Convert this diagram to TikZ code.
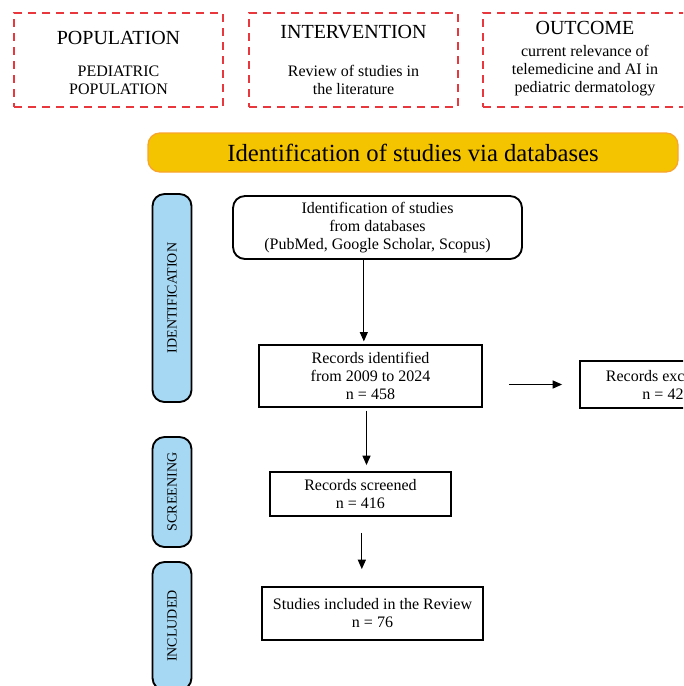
\documentclass[tikz,border=0pt]{standalone}
\usepackage{fontspec}
\setmainfont{Liberation Serif}
\usetikzlibrary{positioning,arrows.meta}
\definecolor{picored}{HTML}{E8383D}
\definecolor{bannerfill}{HTML}{F5C400}
\definecolor{bannerline}{HTML}{F9A52C}
\definecolor{phaseblue}{HTML}{A6D8F4}

\begin{document}
\begin{tikzpicture}[x=0.75pt, y=-0.75pt,
    picobox/.style={draw=picored, line width=1.5pt, dash pattern=on 6pt off 4.5pt, minimum width=156.75pt, minimum height=70.5pt},
    head/.style={font=\fontsize{15}{17}\selectfont},
    body/.style={font=\fontsize{12}{13.5}\selectfont, align=center},
    banner/.style={draw=bannerline, line width=1pt, fill=bannerfill, rounded corners=9pt, minimum width=397.5pt, minimum height=29.25pt, font=\fontsize{18.5}{20}\selectfont},
    phase/.style={draw, line width=1.4pt, fill=phaseblue, rounded corners=9pt, rotate=90, minimum height=29.25pt, font=\fontsize{10.5}{12}\selectfont},
    stepbox/.style={draw, line width=1.4pt, align=center, inner sep=2pt, font=\fontsize{12}{13.5}\selectfont},
    arr/.style={-{Triangle[length=7pt, width=6pt]}, line width=0.8pt}]
    \useasboundingbox (0,0) rectangle (683,686);
    \clip (0,0) rectangle (683,686);
    % PICO boxes
    \node (popbox) [picobox] at (118.5,60) {};
    \node (pophead) [head] at (118.5,38) {POPULATION};
    \node (popbody) [body] at (118.5,80) {PEDIATRIC\\POPULATION};
    \node (intbox) [picobox] at (353.5,60) {};
    \node (inthead) [head] at (353.5,32) {INTERVENTION};
    \node (intbody) [body] at (353.5,80) {Review of studies in\\the literature};
    \node (outbox) [picobox] at (587.5,60) {};
    \node (outhead) [head] at (585,28) {OUTCOME};
    \node (outbody) [body] at (585,71) {current relevance of\\telemedicine and AI in\\pediatric dermatology};
    % banner + phases
    \node (title) [banner] at (413,152.5) {Identification of studies via databases};
    \node (idphase)  [phase, minimum width=156pt] at (172,298) {IDENTIFICATION};
    \node (scrphase) [phase, minimum width=82.5pt] at (172,492) {SCREENING};
    \node (incphase) [phase, minimum width=96pt] at (172,626) {INCLUDED};
    % flow
    \node (db)  [stepbox, rounded corners=9pt, minimum width=216.75pt, minimum height=47.25pt] at (377.5,227.5) {Identification of studies\\from databases\\(PubMed, Google Scholar, Scopus)};
    \node (rec) [stepbox, minimum width=167.25pt, minimum height=46.5pt] at (370.5,376) {Records identified\\from 2009 to 2024\\n = 458};
    \node (exc) [stepbox, minimum width=124.5pt, minimum height=35.25pt] at (663,384.5) {Records excluded\\n = 42};
    \node (scr) [stepbox, minimum width=135.75pt, minimum height=33pt] at (360.5,494) {Records screened\\n = 416};
    \node (inc) [stepbox, minimum width=165.75pt, minimum height=39.75pt] at (372.5,613.5) {Studies included in the Review\\n = 76};
    \draw[arr, shorten >=2pt] ([xshift=-5pt]rec.north |- db.south) -- ([xshift=-5pt]rec.north);
    \draw[arr, shorten <=2pt, shorten >=4.5pt] ([xshift=-3pt]rec.south) -- ([xshift=-3pt]rec.south |- scr.north);
    \draw[arr, shorten <=19.5pt, shorten >=12.75pt] (rec.east |- exc.west) -- (exc.west);
    \draw[arr, shorten <=12pt, shorten >=12.75pt] ([xshift=1pt]scr.south) -- ([xshift=1pt]scr.south |- inc.north);
\end{tikzpicture}
\end{document}
